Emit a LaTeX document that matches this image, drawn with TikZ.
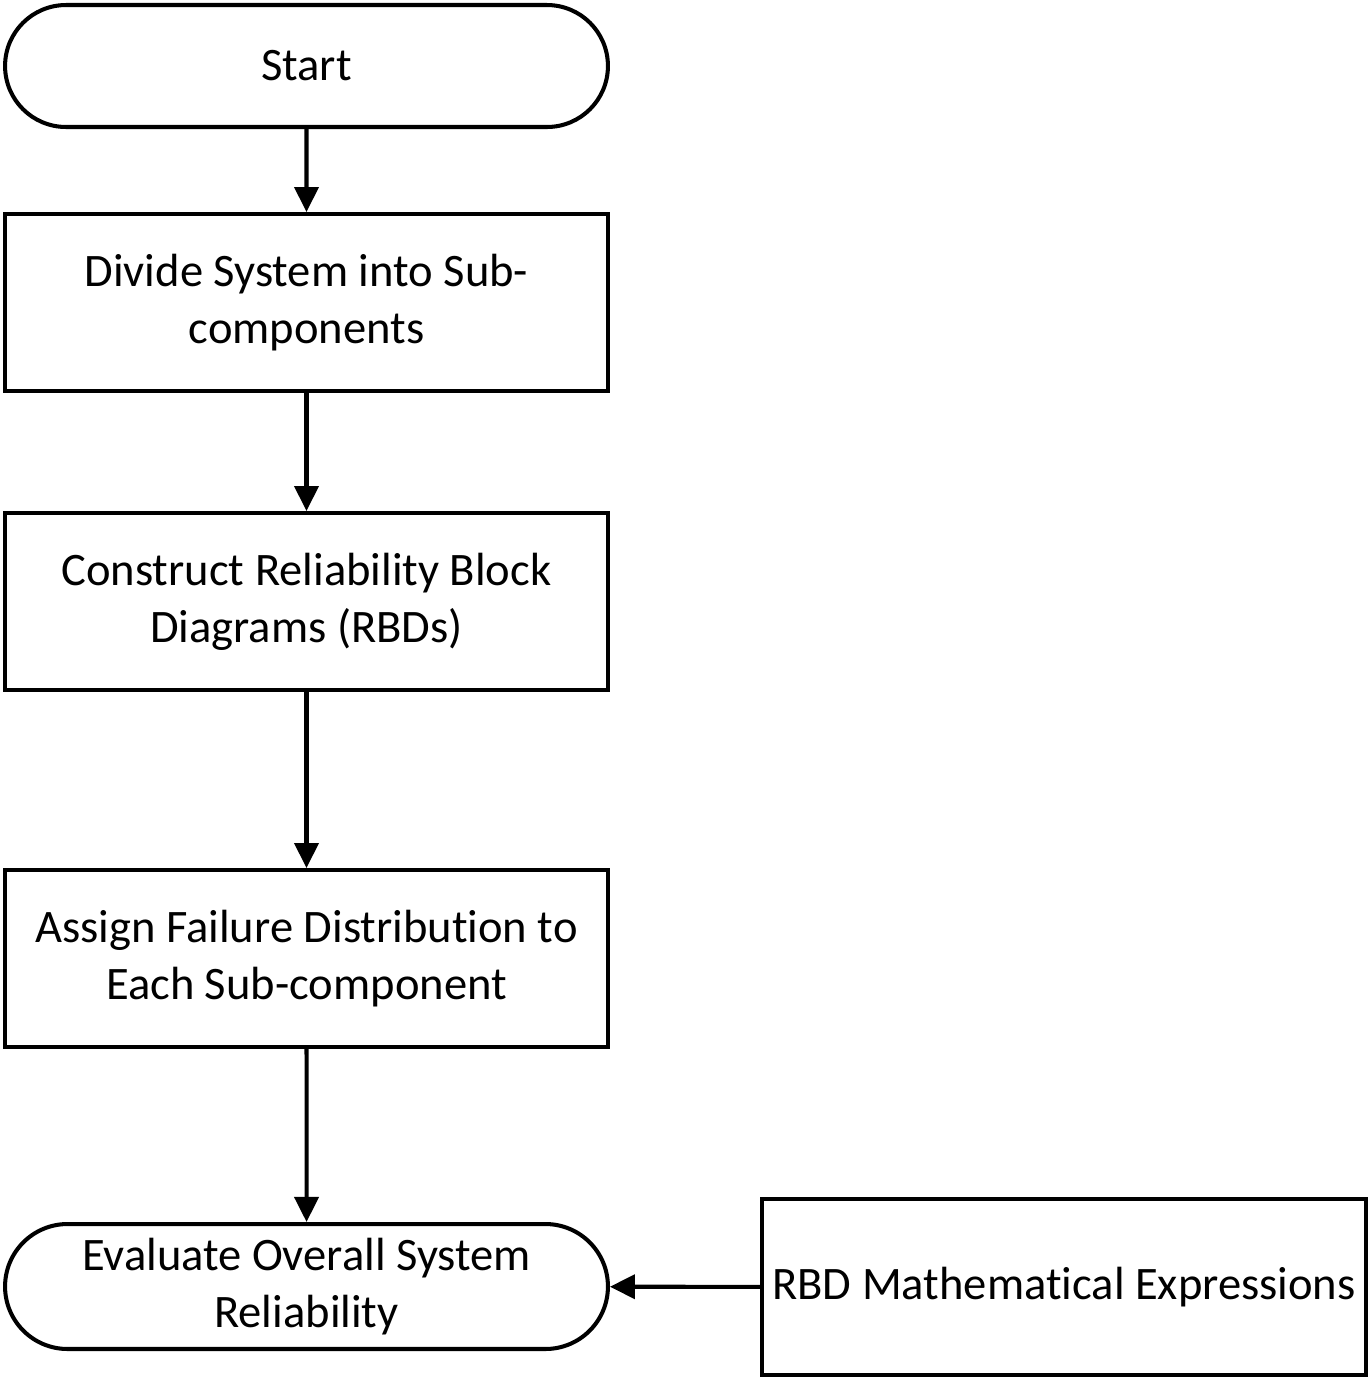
\documentclass[tikz,border=0pt]{standalone}
\usepackage{fontspec}
\setmainfont{Carlito}[RawFeature=-liga]
\usetikzlibrary{arrows.meta,positioning,shapes.misc}
\tikzset{
  term/.style={rounded rectangle,draw=black,line width=2.3pt,
              minimum width=12.06cm,minimum height=2.44cm,inner sep=0pt,
              align=center,font=\fontsize{26.5}{32.5}\selectfont},
  box/.style={rectangle,draw=black,line width=2.3pt,
              minimum width=12.06cm,minimum height=3.54cm,inner sep=0pt,
              align=center,font=\fontsize{26.5}{32.5}\selectfont},
  flow/.style={-{Triangle[length=5mm,width=4.8mm]},line width=2.3pt,black},
}
\begin{document}
\begin{tikzpicture}[x=0.02cm,y=-0.02cm]
  \useasboundingbox (0,0) rectangle (1371,1380);
  % main column
  \node[term] (start) at (306.5,66){Start};
  \node[box] (divide) at (306.5,302.5){Divide System into Sub-\\components};
  \node[box] (rbd) at (306.5,601.5){Construct Reliability Block\\Diagrams (RBDs)};
  \node[box] (assign) at (306.5,958.5){Assign Failure Distribution to\\Each Sub-component};
  \node[term,minimum height=2.5cm] (eval) at (306.5,1286.5){Evaluate Overall System\\Reliability};
  % side input
  \node[box,minimum width=12.08cm,minimum height=3.52cm] (expr) at (1064,1287){RBD Mathematical Expressions};
  \draw[flow] (start) -- (divide);
  \draw[flow] (divide) -- (rbd);
  \draw[flow] (rbd) -- (assign);
  \draw[flow] (assign) -- (eval);
  \draw[flow] (expr) -- (eval);
\end{tikzpicture}
\end{document}
